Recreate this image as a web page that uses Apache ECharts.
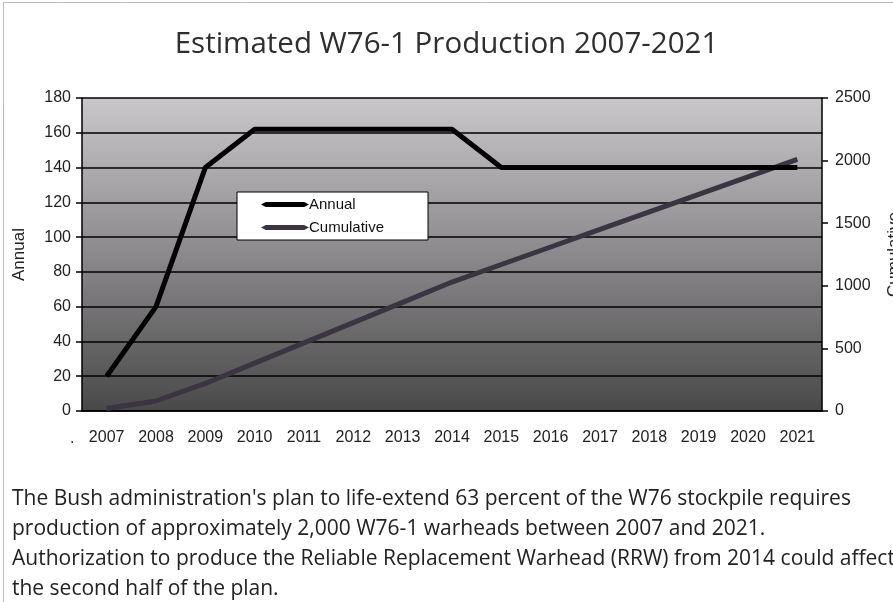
<!DOCTYPE html>
<html>
<head>
<meta charset="utf-8">
<script src="https://cdn.jsdelivr.net/npm/echarts@6/dist/echarts.min.js"></script>
<style>
  html, body { margin: 0; padding: 0; background: #fff; }
  #chart { width: 893px; height: 602px; }
</style>
</head>
<body>
<div id="chart"></div>
<script>
// years on the x axis
const years = ['2007', '2008', '2009', '2010', '2011', '2012', '2013', '2014',
  '2015', '2016', '2017', '2018', '2019', '2020', '2021'];
// warheads per year (left axis)
const annual = [20, 60, 140, 162, 162, 162, 162, 162, 140, 140, 140, 140, 140, 140, 140];
// running total (right axis)
const cumulative = [20, 80, 220, 382, 544, 706, 868, 1030, 1170, 1310, 1450, 1590, 1730, 1870, 2010];

const captionLines = [
  "The Bush administration's plan to life-extend 63 percent of the W76 stockpile requires",
  'production of approximately 2,000 W76-1 warheads between 2007 and 2021.',
  'Authorization to produce the Reliable Replacement Warhead (RRW) from 2014 could affect',
  'the second half of the plan.'
];

const chart = echarts.init(document.getElementById('chart'));

const axisFont = { fontFamily: 'Liberation Sans', fontSize: 16, color: '#222' };

const option = {
  animation: false,
  title: {
    text: 'Estimated W76-1 Production 2007-2021',
    left: 'center',
    top: 25,
    textStyle: {
      fontFamily: 'Open Sans',
      fontSize: 29.5,
      fontWeight: 'normal',
      color: '#2e2e2e'
    }
  },
  legend: {
    orient: 'vertical',
    left: 237,
    top: 192,
    padding: [5, 44, 5, 24],
    itemGap: 8,
    itemWidth: 48,
    itemHeight: 6,
    backgroundColor: '#fff',
    borderColor: '#000',
    borderWidth: 1,
    borderRadius: 0,
    icon: 'path://M0,5 L10,0 L90,0 L100,5 L90,10 L10,10 Z',
    textStyle: { fontFamily: 'Liberation Sans', fontSize: 15, color: '#111', padding: [0, 0, 0, -5] },
    data: ['Annual', 'Cumulative']
  },
  grid: {
    left: 82,
    right: 71,
    top: 98,
    bottom: 191,
    containLabel: false,
    outerBoundsMode: 'none',
    show: true,
    borderWidth: 0,
    backgroundColor: new echarts.graphic.LinearGradient(0, 0, 0, 1, [
      { offset: 0, color: '#cac7ca' },
      { offset: 0.5, color: '#8b898b' },
      { offset: 1, color: '#4a494a' }
    ])
  },
  xAxis: {
    type: 'category',
    data: years,
    boundaryGap: true,
    axisLine: { lineStyle: { color: '#000', width: 1.5 } },
    axisTick: { length: 6, lineStyle: { color: '#000', width: 1.5 } },
    axisLabel: Object.assign({ margin: 19 }, axisFont),
    splitLine: { show: false }
  },
  yAxis: [
    {
      type: 'value',
      name: 'Annual',
      nameLocation: 'middle',
      nameRotate: 90,
      nameGap: 54,
      nameTextStyle: { fontFamily: 'Liberation Sans', fontSize: 17, color: '#222' },
      min: 0,
      max: 180,
      interval: 20,
      axisLine: { show: true, lineStyle: { color: '#000', width: 1.5 } },
      axisTick: { show: true, length: 6, lineStyle: { color: '#000', width: 1.5 } },
      axisLabel: Object.assign({ margin: 11 }, axisFont),
      splitLine: { show: true, lineStyle: { color: '#000', width: 1.5 } }
    },
    {
      type: 'value',
      name: 'Cumulative',
      nameLocation: 'middle',
      nameRotate: 90,
      nameGap: 64,
      nameTextStyle: { fontFamily: 'Liberation Sans', fontSize: 17, color: '#222' },
      min: 0,
      max: 2500,
      interval: 500,
      position: 'right',
      axisLine: { show: true, lineStyle: { color: '#000', width: 1.5 } },
      axisTick: { show: true, length: 6, lineStyle: { color: '#000', width: 1.5 } },
      axisLabel: Object.assign({ margin: 13, formatter: v => String(v) }, axisFont),
      splitLine: { show: false }
    }
  ],
  series: [
    {
      name: 'Annual',
      type: 'line',
      data: annual,
      yAxisIndex: 0,
      symbol: 'none',
      color: '#000',
      lineStyle: { color: '#000', width: 5 },
      z: 3
    },
    {
      name: 'Cumulative',
      type: 'line',
      data: cumulative,
      yAxisIndex: 1,
      symbol: 'none',
      color: '#3a3540',
      lineStyle: { color: '#3a3540', width: 5 },
      z: 2
    }
  ],
  graphic: [
    {
      type: 'rect',
      shape: { x: 3.5, y: 2.5, width: 950, height: 700 },
      style: { fill: 'none', stroke: '#777', lineWidth: 1, lineDash: [1, 1] },
      silent: true
    },
    {
      type: 'text',
      left: 70,
      top: 431,
      style: { text: '.', fontFamily: 'Liberation Sans', fontSize: 16, fill: '#222' }
    },
    {
      type: 'text',
      left: 12,
      top: 484,
      style: {
        text: captionLines.join('\n'),
        fontFamily: 'Open Sans',
        fontSize: 21,
        lineHeight: 30,
        fill: '#222'
      }
    }
  ]
};

chart.setOption(option);
</script>
</body>
</html>
